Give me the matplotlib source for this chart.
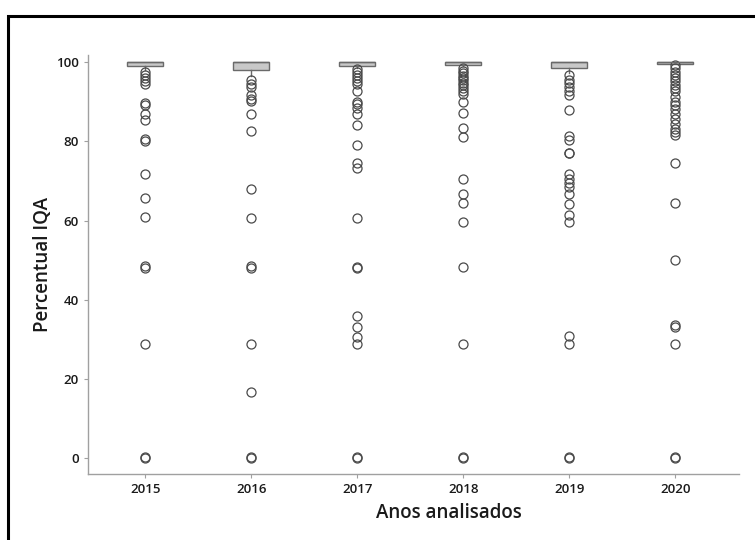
import matplotlib
matplotlib.use("Agg")
import matplotlib.pyplot as plt
from matplotlib.patches import Rectangle

years = ["2015", "2016", "2017", "2018", "2019", "2020"]

# box statistics (percent)
q1 = [98.9, 98.1, 98.9, 99.2, 98.4, 99.6]
q3 = [100.0, 100.0, 100.0, 100.0, 100.0, 100.0]
med = [100.0, 100.0, 100.0, 100.0, 100.0, 100.0]
whis_lo = [98.0, 96.4, 98.5, 99.0, 97.2, 99.4]
whis_hi = [100.0, 100.0, 100.0, 100.0, 100.0, 100.0]

out_2015 = [97.5, 96.8, 96.0, 95.2, 94.5, 89.8, 89.2, 87.0, 85.4, 80.6, 80.0,
            71.8, 65.6, 60.8, 48.5, 48.0, 28.8, 0.3, 0.0]
out_2016 = [95.4, 94.4, 93.7, 91.7, 90.7, 90.1, 86.8, 82.6, 68.0, 60.7, 48.4,
            48.0, 28.8, 16.8, 0.3, 0.0]
out_2017 = [98.2, 97.5, 96.8, 96.1, 95.3, 94.4, 92.6, 90.0, 89.3, 88.3, 86.9,
            84.1, 79.0, 74.4, 73.2, 60.7, 48.3, 47.9, 35.9, 33.2, 30.5, 28.8,
            0.3, 0.0]
out_2018 = [98.4, 97.8, 97.2, 96.6, 96.0, 95.4, 94.8, 94.1, 93.4, 92.7, 92.0,
            90.0, 87.2, 83.4, 81.1, 70.4, 66.7, 64.5, 59.6, 48.3, 28.8, 0.3, 0.0]
out_2019 = [96.7, 95.6, 94.6, 93.8, 92.7, 91.8, 87.8, 81.3, 80.3, 77.1, 77.0,
            71.7, 70.6, 69.5, 68.5, 66.6, 64.1, 61.4, 59.7, 30.9, 28.8, 0.3, 0.0]
out_2020 = [99.2, 98.4, 97.6, 96.8, 96.0, 95.2, 94.3, 93.4, 92.6, 91.2, 90.0,
            89.2, 88.2, 86.8, 85.6, 84.4, 83.2, 82.4, 81.5, 74.4, 64.3, 50.0,
            33.6, 33.0, 28.8, 0.3, 0.0]
outliers = [out_2015, out_2016, out_2017, out_2018, out_2019, out_2020]

stats = []
for i in range(len(years)):
    stats.append({"label": years[i], "q1": q1[i], "q3": q3[i], "med": med[i],
                  "whislo": whis_lo[i], "whishi": whis_hi[i],
                  "fliers": outliers[i]})

plt.rcParams["font.family"] = ["Open Sans", "DejaVu Sans"]

fig = plt.figure(figsize=(7.55, 5.4), dpi=100)
ax = fig.add_axes([0.1166, 0.1222, 0.862, 0.776])

edge = "#6a6a6a"
ax.bxp(stats, positions=range(1, 7), widths=0.34, patch_artist=True,
       showcaps=False,
       boxprops=dict(facecolor="#c8c8c8", edgecolor=edge, linewidth=1.0),
       medianprops=dict(color=edge, linewidth=1.0),
       whiskerprops=dict(color=edge, linewidth=1.0),
       flierprops=dict(marker="o", markersize=6.5, markerfacecolor="none",
                       markeredgecolor="#4a4a4a", markeredgewidth=0.9))

ax.set_xlim(0.46, 6.6)
ax.set_ylim(-4, 101.8)
ax.set_yticks([0, 20, 40, 60, 80, 100])
ax.set_xticks(range(1, 7))
ax.set_xticklabels(years)

for s in ["top", "right"]:
    ax.spines[s].set_visible(False)
for s in ["left", "bottom"]:
    ax.spines[s].set_color("#a0a0a0")
    ax.spines[s].set_linewidth(1.0)
ax.tick_params(axis="both", colors="#a0a0a0", length=3, width=0.8,
               labelcolor="#1a1a1a", labelsize=9.5)
for lab in ax.get_xticklabels() + ax.get_yticklabels():
    lab.set_fontweight("semibold")

ax.set_xlabel("Anos analisados", fontsize=13.5, fontweight="semibold",
              color="#1a1a1a")
ax.xaxis.set_label_coords(0.555, -0.068)
ax.set_ylabel("Percentual IQA", fontsize=13.5, fontweight="semibold",
              color="#1a1a1a", labelpad=2)

# outer frame
frame = Rectangle((8 / 755, -0.05), 1.0, (540 - 16) / 540 + 0.05,
                  transform=fig.transFigure, fill=False, edgecolor="black",
                  linewidth=2.2)
fig.patches.append(frame)

fig.savefig("out.png", dpi=100)
